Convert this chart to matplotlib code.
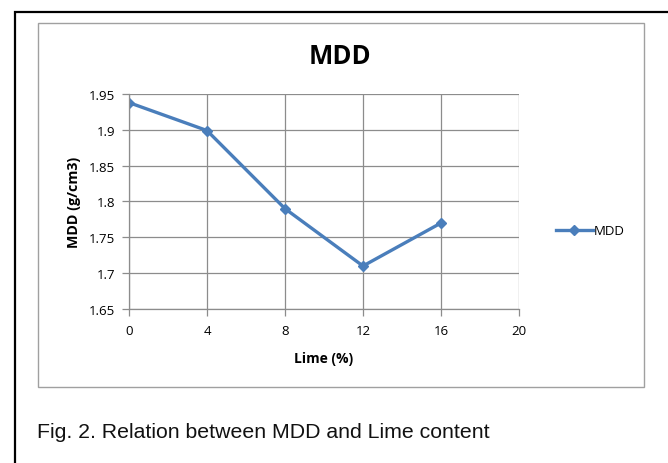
import matplotlib
matplotlib.use("Agg")
import matplotlib.pyplot as plt
from matplotlib.patches import Rectangle

lime = [0, 4, 8, 12, 16]
mdd = [1.938, 1.899, 1.790, 1.710, 1.770]
xticks = [0, 4, 8, 12, 16, 20]
yticks = [1.65, 1.7, 1.75, 1.8, 1.85, 1.9, 1.95]
ytick_labels = ["1.65", "1.7", "1.75", "1.8", "1.85", "1.9", "1.95"]

W, H = 668, 464
fig = plt.figure(figsize=(W / 100, H / 100), dpi=100)
fig.patch.set_facecolor("white")

# outer black frame
fig.add_artist(Rectangle((15 / W, 1 - 480 / H), (680 - 15) / W, (480 - 13) / H,
                         transform=fig.transFigure, fill=False, edgecolor="black", lw=1.6))
# inner chart area frame
fig.add_artist(Rectangle((38 / W, 1 - 388 / H), (644 - 38) / W, (388 - 24) / H,
                         transform=fig.transFigure, fill=False, edgecolor="#a0a0a0", lw=1.0))

ax = fig.add_axes([129 / W, 1 - 310 / H, (519 - 129) / W, (310 - 95) / H])
color = "#4A7EBB"
ax.plot(lime, mdd, color=color, lw=2.4, marker="D", markersize=5.5, label="MDD", solid_joinstyle="miter")
ax.set_xlim(0, 20)
ax.set_ylim(1.65, 1.95)
ax.set_xticks(xticks)
ax.set_yticks(yticks)
ax.set_yticklabels(ytick_labels)
ax.grid(True, color="#8c8c8c", lw=0.9)
ax.set_axisbelow(True)
for s in ["top", "right"]:
    ax.spines[s].set_visible(False)
for s in ["left", "bottom"]:
    ax.spines[s].set_color("#8c8c8c")
    ax.spines[s].set_linewidth(0.9)
ax.tick_params(axis="both", colors="#8c8c8c", labelcolor="black", labelsize=9.5, length=5, width=0.9)
ax.tick_params(axis="x", pad=6)
ax.tick_params(axis="y", pad=5)
for lab in ax.get_xticklabels() + ax.get_yticklabels():
    lab.set_fontfamily("Open Sans")

ax.set_xlabel("Lime (%)", fontsize=10, fontweight="bold", family="Open Sans", labelpad=10)
ax.set_ylabel("MDD (g/cm3)", fontsize=10.3, fontweight="bold", family="Open Sans", labelpad=6)

fig.text(340 / W, 1 - 56 / H, "MDD", ha="center", va="center", fontsize=18.5,
         fontweight="bold", family="Open Sans")

leg = ax.legend(loc="center left", bbox_to_anchor=(549 / W, 1 - 232 / H),
                bbox_transform=fig.transFigure, frameon=False, prop={"family": "Open Sans", "size": 9.5},
                handlelength=2.8, handletextpad=0.1, borderpad=0)

fig.text(37 / W, 1 - 438 / H, "Fig. 2. Relation between MDD and Lime content", ha="left",
         va="baseline", fontsize=15.3, family="Liberation Sans", color="#111111")

fig.savefig("out.png", dpi=100)
